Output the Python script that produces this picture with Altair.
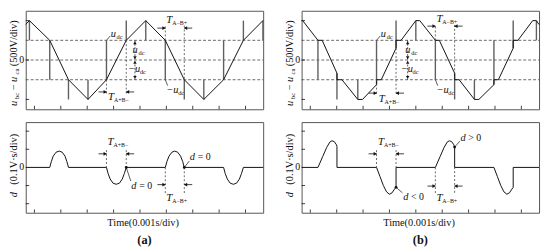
import altair as alt
import pandas as pd

FONT = "Liberation Serif"
INK = "#111111"
SPIKE = "#5f5f5f"
DASH = "#444444"

# ---------------- data (time in ms = 0.001 s/div, voltage in div) ----------------
X_TICKS = [0.33, 1.33, 2.33, 3.33, 4.33, 5.33, 6.33, 7.33, 8.33]
TOP_YTICKS = [-2, 0, 2]
BOT_YTICKS = [-2, -1, 1, 2]
LEVELS = [1, 0, -1]

# (a) top: u_bc - u_ca
a_wave_t = [0.0, 0.14, 0.91, 1.62, 2.36, 3.06, 3.81, 4.55, 5.29, 6.01, 6.75, 7.50, 8.25, 8.99]
a_wave_v = [1.81, 2, 1, -1, -2, -1, 1, 2, 1, -1, -2, -1, 1, 2]
a_spk_t = [0.14, 0.91, 1.62, 2.36, 3.06, 3.81, 4.55, 5.29, 6.01, 6.75, 7.50, 8.25, 8.99]
a_spk_v1 = [1, 1, -1, -2, -1, 1, 2, 1, -1, -2, -1, 1, 2]
a_spk_v2 = [2, -1, -2, -1, 1, 2, 1, -1, -2, -1, 1, 2, 1]

# (a) bottom: d
a_d_t = [0.0, 0.91, 0.97, 1.04, 1.15, 1.27, 1.38, 1.49, 1.56, 1.62,
         3.06, 3.12, 3.20, 3.31, 3.43, 3.55, 3.66, 3.74, 3.81,
         5.29, 5.35, 5.43, 5.54, 5.65, 5.76, 5.87, 5.95, 6.01,
         7.50, 7.56, 7.64, 7.75, 7.87, 7.99, 8.10, 8.18, 8.25, 9.0]
a_d_v = [0, 0, 0.32, 0.62, 0.84, 0.9, 0.84, 0.62, 0.32, 0,
         0, -0.33, -0.64, -0.87, -0.93, -0.87, -0.64, -0.33, 0,
         0, 0.32, 0.62, 0.84, 0.9, 0.84, 0.62, 0.32, 0,
         0, -0.33, -0.64, -0.87, -0.93, -0.87, -0.64, -0.33, 0, 0]

# (b) top
b_wave_t = [0.0, 0.04, 0.62, 0.78, 1.34, 1.34, 1.53, 2.13, 2.31, 2.84, 2.84, 3.02, 3.58, 3.58, 3.77,
            4.33, 4.48, 5.07, 5.22, 5.80, 5.80, 5.97, 6.55, 6.72, 7.29, 7.29, 7.46, 8.02, 8.02, 8.20,
            8.76, 8.90, 9.0]
b_wave_v = [2, 2, 1, 1, -0.67, -1, -1, -2, -2, -1.25, -1, -1, 0.6, 1, 1,
            2, 2, 1, 1, -0.67, -1, -1, -2, -2, -1.25, -1, -1, 0.6, 1, 1,
            2, 2, 1.8]
b_spk_t = [0.62, 1.34, 2.13, 2.84, 3.58, 4.33, 5.07, 5.80, 6.55, 7.29, 8.02, 8.90]
b_spk_v1 = [1, -0.67, -2, -1.25, 0.6, 2, 1, -0.67, -2, -1.25, 0.6, 2]
b_spk_v2 = [-1, -2, -1, 1, 2, 1, -1, -2, -1, 1, 2, 1]

# (b) bottom
b_d_t = [0.0, 0.62, 0.80, 0.95, 1.07, 1.15, 1.24, 1.32, 1.34, 1.34,
         2.84, 2.97, 3.10, 3.22, 3.33, 3.43, 3.52, 3.58, 3.58,
         5.07, 5.25, 5.40, 5.52, 5.60, 5.69, 5.77, 5.80, 5.80,
         7.29, 7.42, 7.55, 7.67, 7.78, 7.88, 7.97, 8.02, 8.02, 9.0]
b_d_v = [0, 0, 0.6, 1.1, 1.4, 1.47, 1.42, 1.25, 1.15, 0,
         0, -0.5, -1.0, -1.35, -1.48, -1.4, -1.2, -1.1, 0,
         0, 0.6, 1.1, 1.4, 1.47, 1.42, 1.25, 1.12, 0,
         0, -0.5, -1.0, -1.35, -1.48, -1.4, -1.2, -1.1, 0, 0]

XD = [0, 9]
YD = [-2.5, 2.5]


def X(f="t"):
    return alt.X(f"{f}:Q", scale=alt.Scale(domain=XD, nice=False, zero=False), axis=None)


def Y(f="v"):
    return alt.Y(f"{f}:Q", scale=alt.Scale(domain=YD, nice=False, zero=False), axis=None)


def line(t, v, color=INK, w=1.0):
    df = pd.DataFrame({"t": t, "v": v, "o": list(range(len(t)))})
    return alt.Chart(df).mark_line(color=color, strokeWidth=w).encode(x=X(), y=Y(), order="o:Q")


def vrule(t, v1, v2, color=SPIKE, w=1.4, dash=None):
    df = pd.DataFrame({"t": t, "v": v1, "v2": v2})
    kw = dict(color=color, strokeWidth=w)
    if dash:
        kw["strokeDash"] = dash
    return alt.Chart(df).mark_rule(**kw).encode(x=X(), y=Y(), y2="v2:Q")


def hrule(t1, t2, v, color=INK, w=1.0, dash=None):
    df = pd.DataFrame({"t": t1, "t2": t2, "v": v})
    kw = dict(color=color, strokeWidth=w)
    if dash:
        kw["strokeDash"] = dash
    return alt.Chart(df).mark_rule(**kw).encode(x=X(), x2="t2:Q", y=Y())


def heads(t, v, shape, size=14):
    df = pd.DataFrame({"t": t, "v": v})
    return alt.Chart(df).mark_point(shape=shape, filled=True, size=size, color=INK, opacity=1,
                                    strokeWidth=0).encode(x=X(), y=Y())


def text(t, v, s, size=10, style="normal", align="left", baseline="middle", angle=0, dx=0, dy=0,
         weight="normal"):
    df = pd.DataFrame({"t": t, "v": v, "s": s})
    return alt.Chart(df).mark_text(font=FONT, fontSize=size, fontStyle=style, align=align,
                                   baseline=baseline, angle=angle, dx=dx, dy=dy, color=INK,
                                   fontWeight=weight).encode(x=X(), y=Y(), text="s:N")


def leader(t0, v0, t1, v1, dot=False):
    out = [line([t0, t1], [v0, v1], w=0.7)]
    if dot:
        out.append(heads([t0], [v0], "circle", 8))
    return out


def sub_label(t, v, main, sub, main_dx_sub, size=10.5, sub_size=6.5):
    return [text(t, v, main, size=size, style="italic"),
            text(t, v, sub, size=sub_size, dx=main_dx_sub, dy=3)]


def frame_ticks(yticks):
    n = len(X_TICKS)
    return [vrule(X_TICKS, [-2.5] * n, [-2.32] * n, color=INK, w=0.8),
            hrule([0] * len(yticks), [0.13] * len(yticks), yticks, color=INK, w=0.8)]


def top_panel(wt, wv, st, s1, s2, ann):
    layers = [hrule([0] * 3, [9] * 3, LEVELS, color=DASH, w=0.8, dash=[3, 2])]
    layers += [vrule(st, s1, s2), line(wt, wv)]
    layers += frame_ticks(TOP_YTICKS)
    layers += ann
    layers += [text([-0.15], [0], ["0"], size=10, align="center")]
    layers += [text([-0.45], [-2.2], ["u"], size=10.5, style="italic", align="center", angle=270),
               text([-0.33], [-1.82], ["bc"], size=7, align="center", angle=270),
               text([-0.45], [-1.38], ["\u2212"], size=10.5, align="center", angle=270),
               text([-0.45], [-0.98], ["u"], size=10.5, style="italic", align="center", angle=270),
               text([-0.33], [-0.58], ["ca"], size=7, align="center", angle=270),
               text([-0.45], [0.85], ["(500V/div)"], size=10.5, align="center", angle=270)]
    return alt.layer(*layers).properties(width=241, height=100)


def bottom_panel(dt, dv, ann, tag):
    layers = [line(dt, dv)]
    layers += frame_ticks(BOT_YTICKS)
    layers += ann
    layers += [text([-0.15], [0], ["0"], size=10, align="center")]
    layers += [text([-0.45], [-1.5], ["d"], size=10.5, style="italic", align="center", angle=270),
               text([-0.45], [0.45], ["(0.1V\u00b7s/div)"], size=10.5, align="center", angle=270)]
    layers += [text([4.45], [-3.05], ["Time(0.001s/div)"], size=10.5, align="center"),
               text([4.5], [-4.0], [tag], size=12.5, align="center", weight="bold")]
    return alt.layer(*layers).properties(width=241, height=92)


def dim_arrows(t_left, t_right, v, length=0.3):
    return [hrule([t_left - length, t_right], [t_left, t_right + length], [v, v], color=INK, w=0.8),
            heads([t_left - 0.05], [v], "triangle-right"),
            heads([t_right + 0.05], [v], "triangle-left")]


def vdim(t, v_top=1, v_mid=0, v_bot=-1):
    return [vrule([t], [v_top], [v_bot], color=INK, w=0.7, dash=[2, 1.5]),
            heads([t], [v_top - 0.12], "triangle-up", 12),
            heads([t], [v_mid + 0.12], "triangle-down", 12),
            heads([t], [v_mid - 0.12], "triangle-up", 12),
            heads([t], [v_bot + 0.12], "triangle-down", 12)]


def T_label(t, v, sub):
    return [text([t], [v], ["T"], size=11, style="italic"),
            text([t], [v], [sub], size=6, dx=6, dy=3)]


def dashed(t, v1, v2):
    return vrule([t], [v1], [v2], color=DASH, w=0.8, dash=[2, 2])


# ------------- annotations (a) -------------
ann_a_top = []
ann_a_top += leader(3.06, 1.0, 3.2, 1.22)
ann_a_top += sub_label([3.22], [1.32], ["u"], ["dc"], 6)
ann_a_top += vdim(4.14)
ann_a_top += sub_label([4.05], [0.52], ["u"], ["dc"], 6)
ann_a_top += sub_label([3.88], [-0.47], ["\u2212u"], ["dc"], 12)
ann_a_top += [dashed(3.06, -1.0, -1.8), dashed(3.81, 1.0, -1.8)]
ann_a_top += dim_arrows(3.06, 3.81, -1.62)
ann_a_top += T_label(3.12, -1.88, "A+B\u2212")
ann_a_top += [dashed(5.29, 1.0, 1.75), dashed(6.01, 1.75, -1.0)]
ann_a_top += dim_arrows(5.29, 6.01, 1.62)
ann_a_top += T_label(5.33, 2.02, "A\u2212B+")
ann_a_top += leader(5.29, -1.0, 5.38, -1.3)
ann_a_top += sub_label([5.33], [-1.52], ["\u2212u"], ["dc"], 12)

ann_a_bot = []
ann_a_bot += [dashed(3.06, 0.95, 0), dashed(3.81, 0.95, 0)]
ann_a_bot += dim_arrows(3.06, 3.81, 0.75)
ann_a_bot += T_label(3.1, 1.4, "A+B\u2212")
ann_a_bot += leader(3.81, 0, 3.98, -0.75, dot=True)
ann_a_bot += [text([4.0], [-1.0], ["d"], size=10.5, style="italic"),
              text([4.0], [-1.0], ["= 0"], size=10, dx=8)]
ann_a_bot += [dashed(5.29, 0, -1.45), dashed(6.01, 0, -1.45)]
ann_a_bot += dim_arrows(5.29, 6.01, -0.95)
ann_a_bot += T_label(5.33, -1.7, "A\u2212B+")
ann_a_bot += leader(6.01, 0, 6.2, 0.35, dot=True)
ann_a_bot += [text([6.22], [0.55], ["d"], size=10.5, style="italic"),
              text([6.22], [0.55], ["= 0"], size=10, dx=8)]

# ------------- annotations (b) -------------
ann_b_top = []
ann_b_top += leader(2.84, 1.0, 2.98, 1.22)
ann_b_top += sub_label([3.0], [1.32], ["u"], ["dc"], 6)
ann_b_top += vdim(4.02)
ann_b_top += sub_label([3.93], [0.52], ["u"], ["dc"], 6)
ann_b_top += sub_label([3.76], [-0.47], ["\u2212u"], ["dc"], 12)
ann_b_top += [dashed(2.84, -1.0, -1.75), dashed(3.58, 1.0, -1.75)]
ann_b_top += dim_arrows(2.84, 3.58, -1.68)
ann_b_top += T_label(2.92, -2.0, "A+B\u2212")
ann_b_top += [dashed(5.07, 1.0, 1.78), dashed(5.80, 1.78, -1.0)]
ann_b_top += dim_arrows(5.07, 5.80, 1.72)
ann_b_top += T_label(5.11, 2.08, "A\u2212B+")
ann_b_top += leader(5.07, -1.0, 5.16, -1.3)
ann_b_top += sub_label([5.11], [-1.52], ["\u2212u"], ["dc"], 12)

ann_b_bot = []
ann_b_bot += [dashed(2.84, 0.95, 0), dashed(3.58, 0.95, 0)]
ann_b_bot += dim_arrows(2.84, 3.58, 0.75)
ann_b_bot += T_label(2.9, 1.4, "A+B\u2212")
ann_b_bot += leader(3.58, -1.1, 3.82, -1.4, dot=True)
ann_b_bot += [text([3.85], [-1.62], ["d"], size=10.5, style="italic"),
              text([3.85], [-1.62], ["< 0"], size=10, dx=8)]
ann_b_bot += [dashed(5.07, 0, -1.45), dashed(5.80, 1.1, -1.45)]
ann_b_bot += dim_arrows(5.07, 5.80, -1.03)
ann_b_bot += T_label(5.11, -1.7, "A\u2212B+")
ann_b_bot += leader(5.80, 1.12, 6.0, 1.45, dot=True)
ann_b_bot += [text([6.02], [1.62], ["d"], size=10.5, style="italic"),
              text([6.02], [1.62], ["> 0"], size=10, dx=8)]

panels = [
    top_panel(a_wave_t, a_wave_v, a_spk_t, a_spk_v1, a_spk_v2, ann_a_top),
    top_panel(b_wave_t, b_wave_v, b_spk_t, b_spk_v1, b_spk_v2, ann_b_top),
    bottom_panel(a_d_t, a_d_v, ann_a_bot, "(a)"),
    bottom_panel(b_d_t, b_d_v, ann_b_bot, "(b)"),
]

chart = alt.concat(*panels, columns=2, spacing=alt.RowColnumber(row=13, column=39),
                   bounds="flush").properties(
    padding={"left": 0, "top": 0, "right": 0, "bottom": 0}
).configure_view(stroke="#555555", strokeWidth=1)

chart.save("out.html", embed_options={"renderer": "svg", "actions": False})
